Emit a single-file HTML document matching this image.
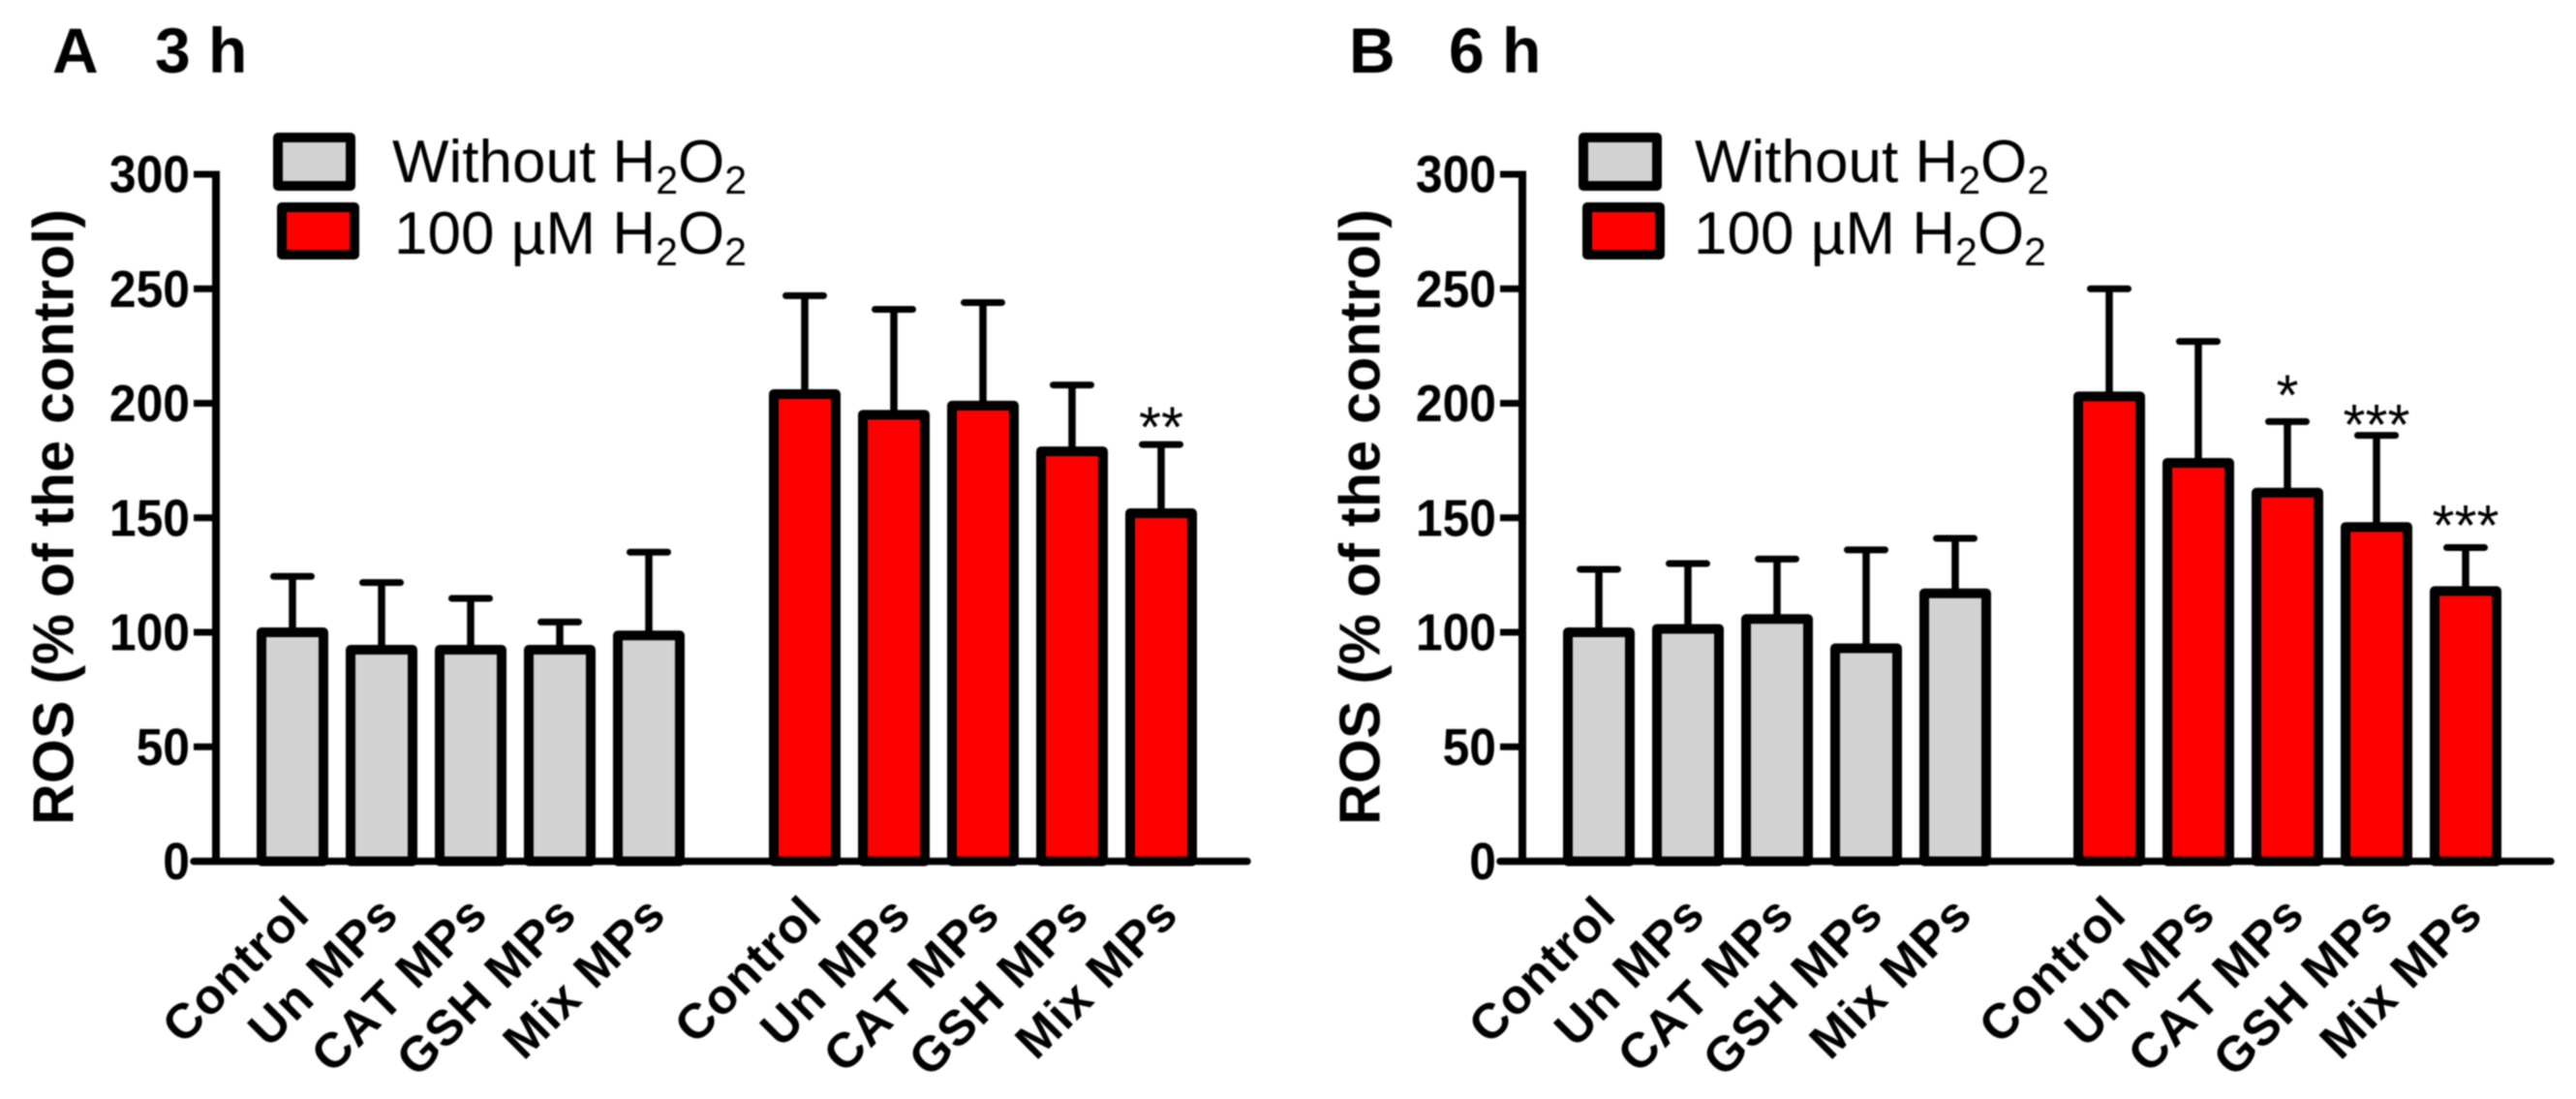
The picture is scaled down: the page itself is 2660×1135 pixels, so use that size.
<!DOCTYPE html>
<html lang="en">
<head>
<meta charset="utf-8">
<title>ROS at 3 h and 6 h</title>
<style>
html,body{margin:0;padding:0;background:#fff;width:2660px;height:1135px;overflow:hidden}
svg{display:block;filter:blur(0.7px)}
text{font-family:"Liberation Sans",sans-serif;fill:#000}
.title{font-size:66px;font-weight:700}
.legend{font-size:62px}
.sub{font-size:41px}
</style>
</head>
<body>
<svg id="chart" xmlns="http://www.w3.org/2000/svg" width="2660" height="1135" viewBox="0 0 2660 1135">
  <rect width="2660" height="1135" fill="#fff"/>

  <text class="title" x="54" y="75">A</text>
  <text class="title" x="160" y="75">3 h</text>
  <text class="title" x="1393" y="75">B</text>
  <text class="title" x="1496" y="75">6 h</text>

  <g>
    <rect x="287" y="142" width="75" height="50" fill="#d3d3d3" stroke="#000" stroke-width="10" stroke-linejoin="round"/>
    <text class="legend" x="405" y="188">Without H<tspan class="sub" dy="12">2</tspan><tspan dy="-12">O</tspan><tspan class="sub" dy="12">2</tspan></text>
    <rect x="291" y="214" width="75" height="49" fill="#f00" stroke="#000" stroke-width="10" stroke-linejoin="round"/>
    <text class="legend" x="407" y="262">100 µM H<tspan class="sub" dy="12">2</tspan><tspan dy="-12">O</tspan><tspan class="sub" dy="12">2</tspan></text>
  </g>
  <g>
    <rect x="1635" y="142" width="76" height="50" fill="#d3d3d3" stroke="#000" stroke-width="10" stroke-linejoin="round"/>
    <text class="legend" x="1750" y="188">Without H<tspan class="sub" dy="12">2</tspan><tspan dy="-12">O</tspan><tspan class="sub" dy="12">2</tspan></text>
    <rect x="1639" y="214" width="75" height="49" fill="#f00" stroke="#000" stroke-width="10" stroke-linejoin="round"/>
    <text class="legend" x="1749" y="262">100 µM H<tspan class="sub" dy="12">2</tspan><tspan dy="-12">O</tspan><tspan class="sub" dy="12">2</tspan></text>
  </g>
</svg>
<script>
const categories = ['Control', 'Un MPs', 'CAT MPs', 'GSH MPs', 'Mix MPs'];
const yTicks = [0, 50, 100, 150, 200, 250, 300];

const panelAWithout = [100, 92.4, 92.4, 92.4, 98.6];
const panelAWithoutUpper = [124.4, 121.7, 114.8, 104.5, 135];
const panelAPeroxide = [204, 195, 199, 179, 152];
const panelAPeroxideUpper = [247, 241, 244, 208, 182];
const panelASignificance = ['', '', '', '', '**'];
const panelASignificanceLevel = [0, 0, 0, 0, 181];

const panelBWithout = [100, 101.5, 105.8, 93, 117];
const panelBWithoutUpper = [127.5, 130, 132, 136, 141];
const panelBPeroxide = [203, 174, 161, 146, 118];
const panelBPeroxideUpper = [250, 227, 192, 186, 137];
const panelBSignificance = ['', '', '*', '***', '***'];
const panelBSignificanceLevel = [0, 0, 195, 182, 138];

const NS = 'http://www.w3.org/2000/svg';
const svg = document.getElementById('chart');
const Y0 = 889.5, PX_PER_UNIT = 2.365;
const STEP = 92, BAR_W = 64, CAP_W = 39, DIGIT_W = 27.7;

function yScale(v) { return Y0 - v * PX_PER_UNIT; }

function make(tag, attrs, parent) {
  const el = document.createElementNS(NS, tag);
  for (const k in attrs) el.setAttribute(k, attrs[k]);
  parent.appendChild(el);
  return el;
}

function drawGroup(g, xOf, values, uppers, fill, groupName) {
  values.forEach(function (v, i) {
    const x = xOf(i);
    const stem = make('line', { x1: x, x2: x, y1: yScale(v), y2: yScale(uppers[i]), stroke: '#000', 'stroke-width': 7.5 }, g);
    
    
    const cap = make('line', { x1: x - CAP_W / 2, x2: x + CAP_W / 2, y1: yScale(uppers[i]), y2: yScale(uppers[i]), stroke: '#000', 'stroke-width': 7, 'stroke-linecap': 'round' }, g);
    
    
    const bar = make('rect', { x: x - BAR_W / 2, y: yScale(v), width: BAR_W, height: Y0 - yScale(v), fill: fill, stroke: '#000', 'stroke-width': 10, 'stroke-linejoin': 'round' }, g);
    
    
  });
}

function drawCategoryLabels(g, xOf) {
  categories.forEach(function (c, i) {
    const ax = xOf(i) + 20, ay = 947;
    const t = make('text', { x: ax, y: ay, 'text-anchor': 'end', 'font-size': 51, 'font-weight': 700, 'letter-spacing': 1, style: 'font-kerning:none', transform: 'rotate(-45 ' + ax + ' ' + ay + ')' }, g);
    
    
    t.textContent = c;
  });
}

function drawStars(g, xOf, stars, levels) {
  stars.forEach(function (s, i) {
    if (!s) return;
    const t = make('text', { x: xOf(i), y: yScale(levels[i]), 'text-anchor': 'middle', 'font-size': 59 }, g);
    
    
    t.textContent = s;
  });
}

function drawPanel(p) {
  const g = make('g', {}, svg);
  
  

  const yAxis = make('line', { x1: p.axisX, x2: p.axisX, y1: yScale(300) - 3.5, y2: Y0, stroke: '#000', 'stroke-width': 8 }, g);
  
  
  const xAxis = make('line', { x1: p.axisX - 23, x2: p.axisEnd, y1: Y0, y2: Y0, stroke: '#000', 'stroke-width': 7.5, 'stroke-linecap': 'round' }, g);
  
  

  yTicks.forEach(function (v) {
    const tick = make('line', { x1: p.axisX - 23, x2: p.axisX, y1: yScale(v), y2: yScale(v), stroke: '#000', 'stroke-width': 7 }, g);
    
    
    const label = make('text', { x: p.axisX - 27, y: yScale(v) + 18.5, 'text-anchor': 'end', 'font-size': 54, 'font-weight': 700, textLength: String(v).length * DIGIT_W, lengthAdjust: 'spacingAndGlyphs' }, g);
    
    
    label.textContent = v;
  });

  const titleX = p.axisX - 147.5, titleY = 534;
  const title = make('text', { x: titleX, y: titleY, 'text-anchor': 'middle', 'font-size': 59, 'font-weight': 700, textLength: 636, lengthAdjust: 'spacing', transform: 'rotate(-90 ' + titleX + ' ' + titleY + ')' }, g);
  
  
  title.textContent = 'ROS (% of the control)';

  const xLeft = function (i) { return p.firstX + i * STEP; };
  const xRight = function (i) { return p.secondX + i * STEP; };

  drawGroup(g, xLeft, p.without, p.withoutUpper, '#d3d3d3', 'without-h2o2');
  drawGroup(g, xRight, p.peroxide, p.peroxideUpper, '#ff0000', '100um-h2o2');
  drawCategoryLabels(g, xLeft);
  drawCategoryLabels(g, xRight);
  drawStars(g, xRight, p.stars, p.starLevels);
}

drawPanel({
  name: 'panel-a-3h', axisX: 223, axisEnd: 1288, firstX: 302, secondX: 831,
  without: panelAWithout, withoutUpper: panelAWithoutUpper,
  peroxide: panelAPeroxide, peroxideUpper: panelAPeroxideUpper,
  stars: panelASignificance, starLevels: panelASignificanceLevel
});
drawPanel({
  name: 'panel-b-6h', axisX: 1572, axisEnd: 2634, firstX: 1651, secondX: 2178,
  without: panelBWithout, withoutUpper: panelBWithoutUpper,
  peroxide: panelBPeroxide, peroxideUpper: panelBPeroxideUpper,
  stars: panelBSignificance, starLevels: panelBSignificanceLevel
});
</script>
</body>
</html>
